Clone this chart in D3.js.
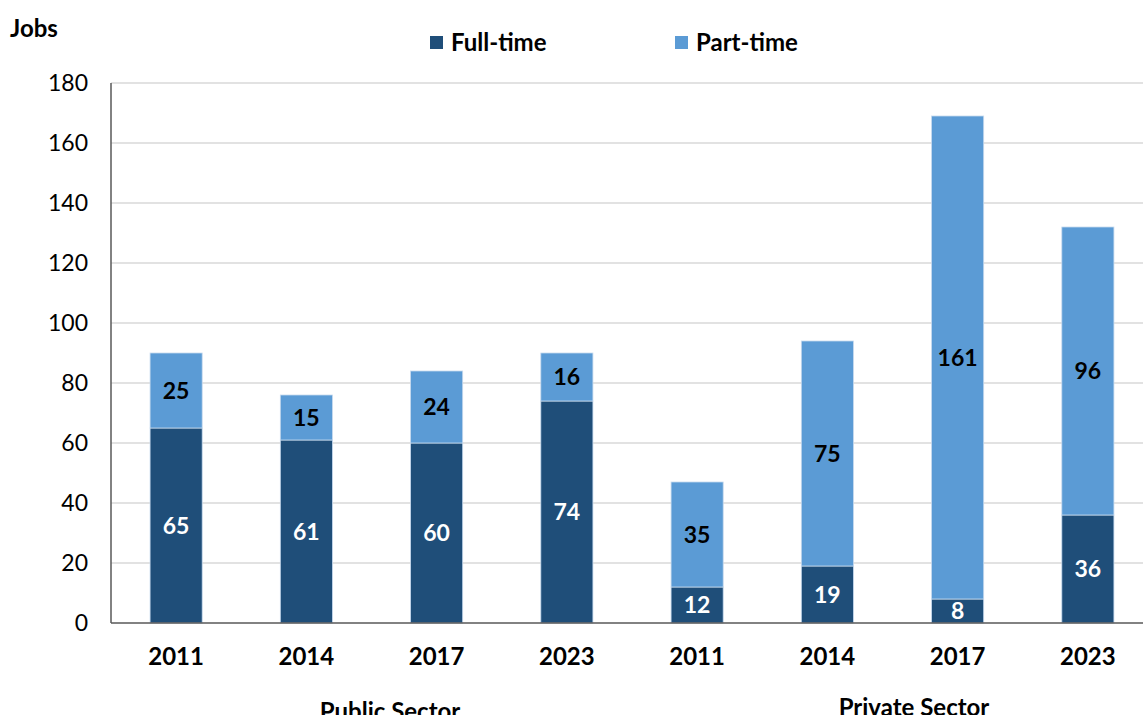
<!DOCTYPE html>
<html>
<head>
<meta charset="utf-8">
<script src="https://cdn.jsdelivr.net/npm/d3@7"></script>
<style>
  html, body { margin: 0; padding: 0; background: #fff; }
  svg { display: block; font-family: Lato, "Open Sans", sans-serif; }
</style>
</head>
<body>
<svg id="chart" width="1143" height="715"></svg>
<script>
// Jobs by sector and survey year
const years = ["2011", "2014", "2017", "2023", "2011", "2014", "2017", "2023"];
const sectors = ["Public Sector", "Public Sector", "Public Sector", "Public Sector",
                 "Private Sector", "Private Sector", "Private Sector", "Private Sector"];
const fullTime = [65, 61, 60, 74, 12, 19, 8, 36];
const partTime = [25, 15, 24, 16, 35, 75, 161, 96];
const yTicks = [0, 20, 40, 60, 80, 100, 120, 140, 160, 180];
const seriesNames = ["Full-time", "Part-time"];
const seriesColors = ["#1F4E79", "#5B9BD5"];
const labelColors = ["#ffffff", "#000000"];

const svg = d3.select("#chart");
const margin = { left: 111, top: 83, bottom: 623 };
const plotRight = 1153;

const keys = years.map((y, i) => i);
const x = d3.scaleBand().domain(keys).range([margin.left, plotRight]).paddingInner(0.6).paddingOuter(0.3);
const y = d3.scaleLinear().domain([0, 180]).range([margin.bottom, margin.top]);

// gridlines
svg.append("g")
  .selectAll("line").data(yTicks.filter(t => t > 0)).join("line")
  .attr("x1", margin.left).attr("x2", 1143)
  .attr("y1", d => y(d)).attr("y2", d => y(d))
  .attr("stroke", "#d9d9d9").attr("stroke-width", 1.5);

// y tick labels
const yAxis = d3.axisLeft(y).tickValues(yTicks).tickSize(0).tickPadding(23);
const gy = svg.append("g").attr("transform", `translate(${margin.left},0)`).call(yAxis);
gy.select(".domain").remove();
gy.selectAll("text").attr("font-size", 23).attr("fill", "#000").attr("font-family", "Lato, sans-serif");

// stacked bars
const rows = keys.map(i => ({ i, full: fullTime[i], part: partTime[i] }));
const stack = d3.stack().keys(["full", "part"])(rows);

stack.forEach((layer, si) => {
  const g = svg.append("g");
  g.selectAll("rect").data(layer).join("rect")
    .attr("x", d => x(d.data.i))
    .attr("width", x.bandwidth())
    .attr("y", d => y(d[1]))
    .attr("height", d => y(d[0]) - y(d[1]))
    .attr("fill", seriesColors[si])
    .attr("stroke", "#c6d9ee").attr("stroke-width", 0.8);
  g.selectAll("text").data(layer).join("text")
    .attr("x", d => x(d.data.i) + x.bandwidth() / 2)
    .attr("y", d => (y(d[0]) + y(d[1])) / 2)
    .attr("dy", "0.36em")
    .attr("text-anchor", "middle")
    .attr("font-size", 23).attr("font-weight", 700)
    .attr("fill", labelColors[si])
    .text(d => d[1] - d[0]);
});

// axis lines
svg.append("line")
  .attr("x1", margin.left).attr("x2", margin.left)
  .attr("y1", y(180)).attr("y2", y(0))
  .attr("stroke", "#595959").attr("stroke-width", 1.5);
svg.append("line")
  .attr("x1", margin.left).attr("x2", 1143)
  .attr("y1", y(0)).attr("y2", y(0))
  .attr("stroke", "#595959").attr("stroke-width", 1.5);

// category (year) labels
const xAxis = d3.axisBottom(x).tickSize(0).tickPadding(25).tickFormat(i => years[i]);
const gx = svg.append("g").attr("transform", `translate(0,${y(0)})`).call(xAxis);
gx.select(".domain").remove();
gx.selectAll("text").attr("font-size", 24).attr("font-weight", 700).attr("fill", "#000")
  .attr("font-family", "Lato, sans-serif");

// sector group labels
const groups = [
  { name: "Public Sector", cx: 390, baseline: 720 },
  { name: "Private Sector", cx: 914, baseline: 716 }
];
svg.append("g").selectAll("text").data(groups).join("text")
  .attr("x", d => d.cx).attr("y", d => d.baseline)
  .attr("text-anchor", "middle")
  .attr("font-size", 24).attr("font-weight", 700).attr("fill", "#000")
  .text(d => d.name);

// axis title
svg.append("text").attr("x", 10).attr("y", 37)
  .attr("font-size", 24).attr("font-weight", 700).attr("fill", "#000")
  .text("Jobs");

// legend
const legendX = [430, 675];
const lg = svg.append("g").selectAll("g").data(seriesNames).join("g")
  .attr("transform", (d, i) => `translate(${legendX[i]},36)`);
lg.append("rect").attr("width", 13).attr("height", 13)
  .attr("fill", (d, i) => seriesColors[i]);
lg.append("text").attr("x", 21).attr("y", 6.5).attr("dy", "0.36em")
  .attr("font-size", 24).attr("font-weight", 700).attr("fill", "#000")
  .text(d => d);
</script>
</body>
</html>
